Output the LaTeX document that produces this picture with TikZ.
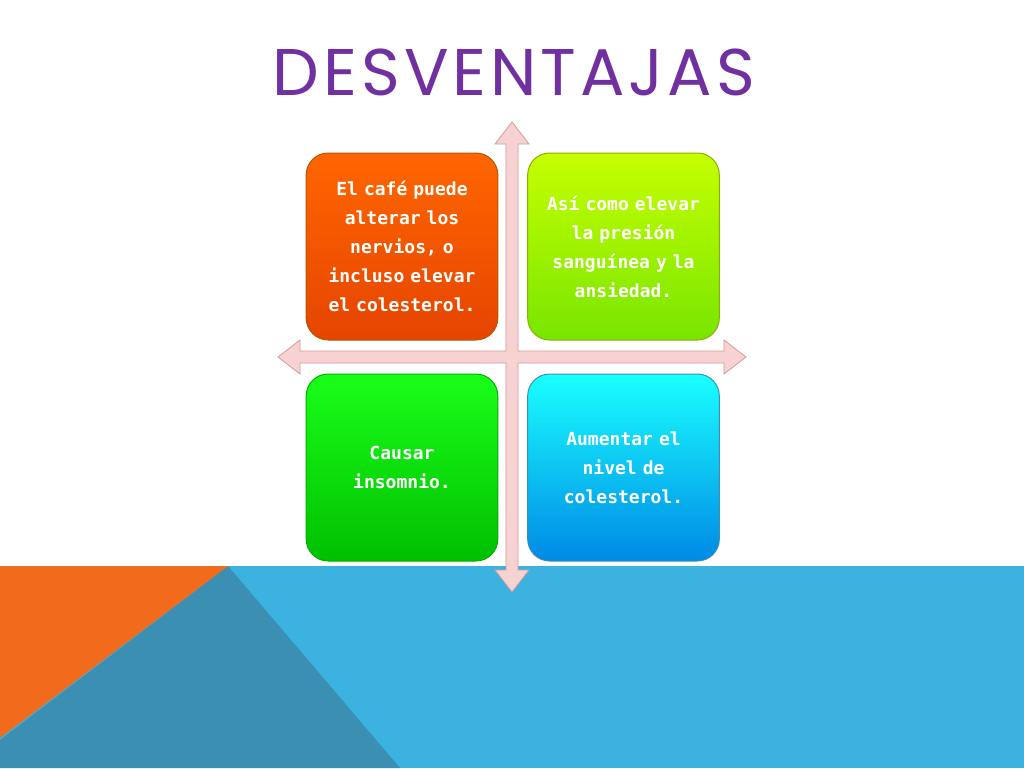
\documentclass[tikz,border=0pt]{standalone}
\usepackage{fontspec}
\newfontfamily\titlefont[LetterSpace=6]{Poppins}
\newfontfamily\boxfont{DejaVu Sans Mono}
\usetikzlibrary{arrows.meta}
\definecolor{purp}{HTML}{7030A0}
\definecolor{bgblue}{HTML}{3BB2E0}
\definecolor{teal}{HTML}{3A8FB2}
\definecolor{org}{HTML}{F26B1D}
\definecolor{pinkf}{HTML}{F6D3D2}
\definecolor{pinkd}{HTML}{D59B99}
\tikzset{
  qbox/.style={rounded corners=22pt, draw=#1!70!black, line width=1pt, minimum width=188pt, minimum height=187pt, text width=185pt, align=center, font=\boxfont\bfseries\fontsize{18}{29}\selectfont, text=white},
  axis/.style={draw=pinkd, fill=pinkf, line width=0.8pt}
}
\begin{document}
\begin{tikzpicture}[x=1pt,y=-1pt]
\useasboundingbox (0,0) rectangle (1024,768);
\fill[white] (0,0) rectangle (1024,768);
\fill[bgblue] (0,566) rectangle (1024,768);
\fill[teal] (228,566) -- (400,768) -- (0,768) -- (0,740) -- cycle;
\fill[org] (0,566) -- (228,566) -- (0,738) -- cycle;
\node[text=purp, font=\titlefont\fontsize{66}{66}\selectfont] (title) at (514,72) {DESVENTAJAS};
% cross arrows
\path[axis] (278,357) -- (300,340) -- (300,351) -- (506,351) -- (506,144) -- (495,144) -- (512,122) -- (529,144) -- (518,144) -- (518,351) -- (724,351) -- (724,340) -- (746,357) -- (724,374) -- (724,363) -- (518,363) -- (518,570) -- (529,570) -- (512,592) -- (495,570) -- (506,570) -- (506,363) -- (300,363) -- (300,374) -- cycle;
\node[qbox=orange, top color=orange!80!red, bottom color=orange!60!red!90!black] (a) at (402,246.5) {El café puede\\alterar los\\nervios, o\\incluso elevar\\el colesterol.};
\node[qbox=lime, top color=lime!90!yellow, bottom color=lime!70!green!90!black] (b) at (623.5,246.5) {Así como elevar\\la presión\\sanguínea y la\\ansiedad.\\[29pt]};
\node[qbox=green, top color=green!90!white, bottom color=green!75!black] (c) at (402,467.5) {Causar\\insomnio.};
\node[qbox=cyan, top color=cyan!90!white, bottom color=cyan!60!blue!90!black] (d) at (623.5,467.5) {Aumentar el\\nivel de\\colesterol.};
\end{tikzpicture}
\end{document}
